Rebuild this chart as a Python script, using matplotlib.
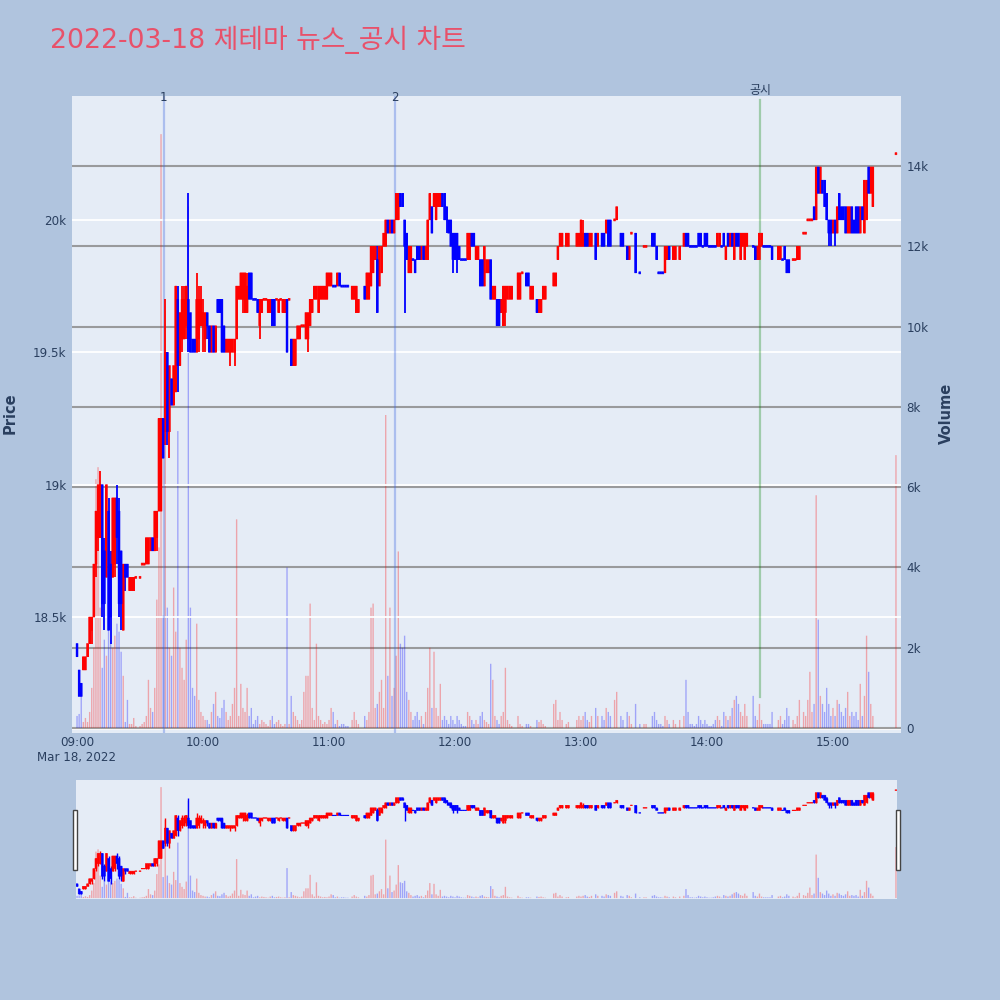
import numpy as np
import matplotlib.pyplot as plt
from matplotlib.patches import Rectangle

plt.rcParams['font.family'] = ['DejaVu Sans', 'Noto Sans CJK KR']

# --- Data: one candle per minute from 09:00 (index 0) to 15:30 (index 390) ---
opens = [
    18400, 18300, 18250, 18300, 18300, 18350, 18400, 18450, 18500, 18700,
    18800, 18800, 19000, 18750, 18650, 18900, 18700, 18650, 18700, 18950,
    18900, 18750, 18450, 18700, 18700, 18600, 18600, 18600, 18650, None,
    18650, 18700, 18700, 18700, 18700, 18750, 18800, 18750, 18800, 18900,
    18900, 19250, 19200, 19500, 19200, 19400, 19300, 19350, 19700, 19450,
    19550, 19550, 19600, 19700, 19650, 19550, 19550, 19500, 19550, 19600,
    19600, 19550, 19650, 19600, 19500, 19600, 19500, 19700, 19700, 19700,
    19600, 19500, 19500, 19500, 19500, 19500, 19550, 19700, 19700, 19700,
    19650, 19650, 19800, 19800, 19700, 19700, 19700, 19600, 19650, 19700,
    19700, 19650, 19650, 19700, 19700, 19700, 19650, 19700, 19650, 19650,
    19700, 19700, 19550, 19450, 19450, 19550, 19550, 19600, 19600, 19550,
    19550, 19600, 19650, 19700, 19700, 19650, 19700, 19700, 19700, 19700,
    19750, 19750, 19750, 19750, 19750, 19800, 19750, 19750, 19750, 19750,
    None, 19700, 19700, 19650, 19650, None, None, 19750, 19700, 19700,
    19750, 19800, 19850, 19850, 19750, 19800, 19900, 19900, 20000, 19950,
    20000, 19950, 20000, 20000, 20100, 20100, 20000, 19950, 19800, 19800,
    19850, 19850, 19900, 19900, 19850, 19900, 19850, 19850, 20000, 20050,
    20050, 20000, 20050, 20050, 20100, 20100, 20050, 20000, 20000, 19950,
    19950, 19950, 19900, 19850, 19850, 19850, 19850, 19850, 19950, 19950,
    19850, 19850, 19850, 19850, 19750, 19800, 19800, 19850, 19700, 19700,
    19700, 19700, 19650, 19600, 19650, 19700, 19700, 19700, None, None,
    19700, 19700, 19800, None, 19800, 19800, 19700, 19700, None, 19700,
    19650, 19650, 19700, 19700, None, None, None, 19750, 19750, 19850,
    19900, 19900, None, 19900, 19900, None, None, None, 19900, 19900,
    19900, 19900, 19950, 19950, 19900, 19900, None, 19950, 19900, None,
    19950, 19950, 19950, 20000, 20000, None, 20000, 20000, None, 19950,
    19950, None, 19900, 19850, 19950, None, 19950, None, 19800, None,
    19900, 19900, None, None, 19950, 19950, 19900, 19800, 19800, 19800,
    19800, 19850, 19900, None, 19850, 19850, None, 19850, None, 19900,
    19950, 19950, 19900, 19900, 19900, 19900, 19950, 19950, 19900, 19950,
    19950, 19900, 19900, 19900, 19900, 19900, 19900, 19900, 19950, 19850,
    19950, 19900, 19950, 19850, 19950, 19950, 19850, 19900, 19850, 19900,
    None, None, 19900, 19900, 19850, 19850, 19900, 19900, 19900, 19900,
    19900, 19900, None, None, 19850, 19850, 19850, 19900, 19850, 19850,
    None, 19850, 19850, 19850, 19850, None, 19950, 19950, 20000, 20000,
    20000, 20050, 20000, 20200, 20100, 20150, 20150, 20100, 20000, 20000,
    19950, 20000, 19950, 20100, 20050, 20050, 20050, 19950, 19950, 20050,
    20000, 20050, 20050, 19950, 20050, 19950, 20000, 20200, 20100, 20050,
    None, None, None, None, None, None, None, None, None, None,
    20250,
]

closes = [
    18350, 18200, 18200, 18350, 18350, 18400, 18500, 18500, 18700, 18900,
    19000, 19000, 18550, 18550, 19000, 18450, 18500, 18950, 18950, 18800,
    18550, 18550, 18700, 18650, 18650, 18650, 18650, 18650, 18650, None,
    18650, 18700, 18700, 18800, 18800, 18800, 18750, 18900, 18900, 19250,
    19250, 19100, 19500, 19200, 19450, 19300, 19450, 19750, 19450, 19650,
    19700, 19700, 19750, 19550, 19500, 19500, 19500, 19700, 19700, 19700,
    19650, 19650, 19600, 19500, 19600, 19500, 19600, 19650, 19650, 19500,
    19500, 19550, 19550, 19550, 19550, 19550, 19750, 19750, 19800, 19800,
    19800, 19750, 19700, 19700, 19700, 19700, 19650, 19700, 19700, 19700,
    19700, 19700, 19700, 19600, 19600, 19700, 19700, 19700, 19700, 19700,
    19500, 19700, 19450, 19550, 19550, 19600, 19600, 19600, 19600, 19650,
    19650, 19700, 19700, 19750, 19750, 19750, 19750, 19750, 19750, 19800,
    19800, 19800, 19750, 19750, 19800, 19750, 19750, 19750, 19750, 19750,
    None, 19750, 19750, 19750, 19700, None, None, 19700, 19800, 19800,
    19900, 19900, 19900, 19650, 19900, 19900, 19950, 20000, 19950, 20000,
    19950, 20000, 20100, 20100, 20050, 20050, 19900, 19850, 19900, 19900,
    19850, 19800, 19850, 19850, 19900, 19850, 19900, 20000, 20100, 19950,
    20100, 20100, 20100, 20100, 20050, 20000, 20000, 19950, 19900, 19850,
    19850, 19850, 19850, 19850, 19850, 19850, 19950, 19950, 19900, 19900,
    19900, 19900, 19750, 19750, 19900, 19850, 19850, 19700, 19750, 19750,
    19600, 19600, 19700, 19750, 19750, 19750, 19750, 19750, None, None,
    19800, 19800, 19800, None, 19750, 19750, 19750, 19750, None, 19650,
    19700, 19700, 19750, 19750, None, None, None, 19800, 19800, 19900,
    19950, 19950, None, 19950, 19950, None, None, None, 19950, 19950,
    20000, 19950, 19900, 19900, 19950, 19950, None, 19850, 19950, None,
    19900, 19900, 20000, 19900, 19900, None, 20000, 20050, None, 19900,
    19900, None, 19850, 19900, 19950, None, 19800, None, 19800, None,
    19900, 19900, None, None, 19900, 19900, 19850, 19800, 19800, 19800,
    19900, 19900, 19850, None, 19900, 19900, None, 19900, None, 19950,
    19900, 19900, 19900, 19900, 19900, 19900, 19900, 19900, 19900, 19900,
    19900, 19900, 19900, 19900, 19900, 19950, 19950, 19900, 19900, 19900,
    19900, 19950, 19900, 19950, 19900, 19900, 19950, 19950, 19950, 19950,
    None, None, 19900, 19850, 19900, 19950, 19950, 19900, 19900, 19900,
    19900, 19850, None, None, 19900, 19900, 19850, 19850, 19800, 19800,
    None, 19850, 19850, 19900, 19900, None, 19950, 19950, 20000, 20000,
    20000, 20000, 20200, 20100, 20200, 20100, 20050, 20000, 19950, 19950,
    20000, 19950, 20050, 20000, 20000, 20000, 19950, 20050, 20050, 19950,
    19950, 19950, 19950, 20050, 20000, 20150, 20150, 20100, 20200, 20200,
    None, None, None, None, None, None, None, None, None, None,
    20250,
]

highs = [
    18400, 18300, 18250, 18350, 18350, 18400, 18500, 18500, 18700, 18900,
    19000, 19050, 19000, 18800, 19000, 18950, 18750, 18950, 18950, 19000,
    18950, 18750, 18700, 18700, 18700, 18650, 18650, 18650, 18650, None,
    18650, 18700, 18700, 18800, 18800, 18800, 18800, 18900, 18900, 19250,
    19250, 19250, 19700, 19500, 19450, 19400, 19450, 19750, 19750, 19650,
    19750, 19750, 19750, 20100, 19650, 19550, 19550, 19800, 19750, 19750,
    19700, 19650, 19650, 19600, 19600, 19600, 19600, 19700, 19700, 19700,
    19600, 19550, 19550, 19550, 19550, 19550, 19750, 19750, 19800, 19800,
    19800, 19800, 19800, 19800, 19700, 19700, 19700, 19700, 19700, 19700,
    19700, 19700, 19700, 19700, 19700, 19700, 19700, 19700, 19700, 19700,
    19700, 19700, 19550, 19550, 19550, 19600, 19600, 19600, 19600, 19650,
    19650, 19700, 19700, 19750, 19750, 19750, 19750, 19750, 19750, 19800,
    19800, 19800, 19750, 19750, 19800, 19800, 19750, 19750, 19750, 19750,
    None, 19750, 19750, 19750, 19700, None, None, 19750, 19800, 19800,
    19900, 19900, 19900, 19900, 19900, 19900, 19950, 20000, 20000, 20000,
    20000, 20000, 20100, 20100, 20100, 20100, 20000, 19950, 19900, 19900,
    19850, 19850, 19900, 19900, 19900, 19900, 19900, 20000, 20100, 20050,
    20100, 20100, 20100, 20100, 20100, 20100, 20050, 20000, 20000, 19950,
    19950, 19950, 19900, 19850, 19850, 19850, 19950, 19950, 19950, 19950,
    19900, 19900, 19850, 19850, 19900, 19850, 19850, 19850, 19750, 19750,
    19700, 19700, 19700, 19750, 19750, 19750, 19750, 19750, None, None,
    19800, 19800, 19800, None, 19800, 19800, 19750, 19750, None, 19700,
    19700, 19700, 19750, 19750, None, None, None, 19800, 19800, 19900,
    19950, 19950, None, 19950, 19950, None, None, None, 19950, 19950,
    20000, 20000, 19950, 19950, 19950, 19950, None, 19950, 19950, None,
    19950, 19950, 20000, 20000, 20000, None, 20000, 20050, None, 19950,
    19950, None, 19900, 19900, 19950, None, 19950, None, 19800, None,
    19900, 19900, None, None, 19950, 19950, 19900, 19800, 19800, 19800,
    19900, 19900, 19900, None, 19900, 19900, None, 19900, None, 19950,
    19950, 19950, 19900, 19900, 19900, 19900, 19950, 19950, 19900, 19950,
    19950, 19900, 19900, 19900, 19900, 19950, 19950, 19900, 19950, 19900,
    19950, 19950, 19950, 19950, 19950, 19950, 19950, 19950, 19950, 19950,
    None, None, 19900, 19900, 19900, 19950, 19950, 19900, 19900, 19900,
    19900, 19900, None, None, 19900, 19900, 19850, 19900, 19850, 19850,
    None, 19850, 19850, 19900, 19900, None, 19950, 19950, 20000, 20000,
    20000, 20050, 20200, 20200, 20200, 20150, 20150, 20100, 20000, 20000,
    20000, 20000, 20050, 20100, 20050, 20050, 20050, 20050, 20050, 20050,
    20000, 20050, 20050, 20050, 20050, 20150, 20150, 20200, 20200, 20200,
    None, None, None, None, None, None, None, None, None, None,
    20250,
]

lows = [
    18350, 18200, 18200, 18300, 18300, 18350, 18400, 18400, 18500, 18650,
    18750, 18800, 18500, 18450, 18650, 18450, 18400, 18650, 18650, 18700,
    18500, 18450, 18450, 18600, 18650, 18600, 18600, 18600, 18650, None,
    18650, 18700, 18700, 18700, 18700, 18750, 18750, 18750, 18750, 18900,
    18900, 19100, 19150, 19150, 19100, 19300, 19300, 19350, 19350, 19450,
    19500, 19550, 19550, 19500, 19500, 19500, 19500, 19500, 19500, 19600,
    19500, 19500, 19550, 19500, 19500, 19500, 19500, 19650, 19650, 19500,
    19500, 19500, 19500, 19450, 19500, 19450, 19550, 19700, 19700, 19650,
    19650, 19650, 19700, 19700, 19700, 19700, 19650, 19550, 19650, 19700,
    19700, 19650, 19650, 19600, 19600, 19700, 19650, 19700, 19650, 19650,
    19500, 19700, 19450, 19450, 19450, 19550, 19550, 19600, 19600, 19550,
    19500, 19600, 19650, 19700, 19700, 19650, 19700, 19700, 19700, 19700,
    19750, 19750, 19750, 19750, 19750, 19750, 19750, 19750, 19750, 19750,
    None, 19700, 19700, 19650, 19650, None, None, 19700, 19700, 19700,
    19750, 19800, 19850, 19650, 19750, 19800, 19900, 19900, 19950, 19950,
    19950, 19950, 20000, 20000, 20050, 20050, 19650, 19850, 19800, 19800,
    19850, 19800, 19850, 19850, 19850, 19850, 19850, 19850, 20000, 19950,
    20050, 20000, 20050, 20050, 20050, 20000, 19950, 19950, 19900, 19800,
    19850, 19800, 19850, 19850, 19850, 19850, 19850, 19850, 19900, 19900,
    19850, 19850, 19750, 19750, 19750, 19800, 19800, 19700, 19700, 19700,
    19600, 19600, 19650, 19600, 19600, 19700, 19700, 19700, None, None,
    19700, 19700, 19800, None, 19750, 19750, 19700, 19700, None, 19650,
    19650, 19650, 19700, 19700, None, None, None, 19750, 19750, 19850,
    19900, 19900, None, 19900, 19900, None, None, None, 19900, 19900,
    19900, 19900, 19900, 19900, 19900, 19900, None, 19850, 19900, None,
    19900, 19900, 19950, 19900, 19900, None, 20000, 20000, None, 19900,
    19900, None, 19850, 19850, 19950, None, 19800, None, 19800, None,
    19900, 19900, None, None, 19900, 19900, 19850, 19800, 19800, 19800,
    19800, 19850, 19850, None, 19850, 19850, None, 19850, None, 19900,
    19900, 19900, 19900, 19900, 19900, 19900, 19900, 19900, 19900, 19900,
    19900, 19900, 19900, 19900, 19900, 19900, 19900, 19900, 19900, 19850,
    19900, 19900, 19900, 19850, 19900, 19900, 19850, 19900, 19850, 19900,
    None, None, 19900, 19850, 19850, 19850, 19900, 19900, 19900, 19900,
    19900, 19850, None, None, 19850, 19850, 19850, 19850, 19800, 19800,
    None, 19850, 19850, 19850, 19850, None, 19950, 19950, 20000, 20000,
    20000, 20000, 20000, 20100, 20100, 20100, 20050, 20000, 19900, 19900,
    19950, 19900, 19950, 20000, 20000, 20000, 19950, 19950, 19950, 19950,
    19950, 19950, 19950, 19950, 20000, 19950, 20000, 20100, 20100, 20050,
    None, None, None, None, None, None, None, None, None, None,
    20250,
]

volumes = [
    300, 350, 900, 150, 250, 150, 400, 1000, 2000, 6200,
    6500, 3000, 1500, 2200, 1800, 2500, 2200, 2000, 2300, 2600,
    2400, 1900, 1300, 150, 700, 100, 100, 250, 50, 0,
    50, 100, 150, 300, 1200, 500, 400, 1000, 3200, 4500,
    14800, 2800, 10400, 3000, 2000, 1800, 3500, 2400, 7400, 2000,
    1500, 1200, 2200, 13000, 3000, 1000, 800, 2600, 700, 400,
    300, 200, 200, 100, 400, 600, 900, 300, 250, 500,
    700, 400, 200, 300, 600, 1000, 5200, 300, 1100, 500,
    400, 1000, 300, 500, 100, 200, 300, 100, 200, 150,
    100, 50, 200, 300, 100, 150, 200, 100, 50, 100,
    4000, 100, 800, 400, 300, 200, 100, 200, 900, 1300,
    1300, 3100, 500, 200, 2100, 300, 200, 100, 150, 100,
    200, 500, 400, 100, 200, 50, 100, 100, 50, 50,
    0, 200, 400, 200, 100, 0, 0, 300, 200, 400,
    3000, 3100, 500, 600, 900, 1200, 500, 7800, 1300, 3000,
    800, 1000, 1800, 4400, 2100, 2000, 2300, 900, 700, 400,
    200, 300, 400, 200, 300, 100, 400, 1000, 2000, 500,
    1900, 500, 300, 1100, 200, 300, 200, 100, 300, 200,
    100, 300, 200, 100, 50, 50, 400, 300, 200, 100,
    200, 100, 300, 400, 200, 150, 100, 1600, 1200, 300,
    200, 100, 300, 400, 1500, 200, 100, 50, 0, 0,
    300, 100, 50, 0, 100, 100, 50, 0, 0, 200,
    150, 200, 100, 50, 0, 0, 0, 600, 700, 200,
    400, 200, 0, 100, 150, 0, 0, 0, 200, 300,
    200, 300, 400, 200, 150, 300, 0, 500, 300, 0,
    300, 200, 500, 400, 300, 0, 700, 900, 0, 300,
    200, 0, 400, 300, 100, 0, 600, 0, 100, 0,
    100, 100, 0, 0, 300, 400, 200, 100, 100, 50,
    300, 200, 100, 0, 200, 100, 0, 200, 0, 300,
    1200, 400, 100, 100, 50, 100, 300, 200, 100, 200,
    100, 50, 50, 100, 200, 300, 200, 50, 400, 300,
    200, 300, 500, 700, 800, 600, 400, 300, 600, 300,
    0, 0, 800, 300, 200, 600, 200, 100, 100, 100,
    100, 400, 0, 0, 200, 300, 100, 200, 500, 300,
    0, 200, 100, 300, 700, 0, 400, 300, 700, 1400,
    400, 600, 5800, 2700, 800, 600, 400, 1000, 600, 300,
    500, 300, 700, 600, 400, 300, 500, 900, 300, 400,
    300, 400, 200, 1100, 300, 800, 2300, 1400, 600, 300,
    0, 0, 0, 0, 0, 0, 0, 0, 0, 0,
    6800,
]

hour_ticks = [0, 60, 120, 180, 240, 300, 360]
hour_labels = ['09:00\nMar 18, 2022', '10:00', '11:00', '12:00', '13:00', '14:00', '15:00']
price_ticks = [18500, 19000, 19500, 20000]
price_labels = ['18.5k', '19k', '19.5k', '20k']
volume_ticks = [0, 2000, 4000, 6000, 8000, 10000, 12000, 14000]
volume_labels = ['0', '2k', '4k', '6k', '8k', '10k', '12k', '14k']

event_labels = ['1', '2', '공시']
event_minutes = [41.4, 151.4, 325.2]

# --- Colours ---
RED = '#FF0000'
BLUE = '#0000FF'
PAPER = '#B0C4DE'
PLOT_BG = '#E5ECF6'
TEXT = '#2a3f5f'

o = np.array(opens, dtype=float)
c = np.array(closes, dtype=float)
h = np.array(highs, dtype=float)
l = np.array(lows, dtype=float)
v = np.array(volumes, dtype=float)
t = np.arange(len(o))

# candle direction, flat candles follow the previous close like plotly does
up = np.ones(len(o), dtype=bool)
prev_c, prev_up = np.nan, True
for i in range(len(o)):
    if np.isnan(c[i]):
        up[i] = prev_up
        continue
    if c[i] > o[i]:
        d = True
    elif c[i] < o[i]:
        d = False
    elif not np.isnan(prev_c) and c[i] != prev_c:
        d = c[i] > prev_c
    else:
        d = prev_up
    up[i], prev_up, prev_c = d, d, c[i]

ok = ~np.isnan(c)


def draw_candles(ax, width, wick_lw, edge_lw, min_h):
    for mask, col in ((ok & up, RED), (ok & ~up, BLUE)):
        ax.vlines(t[mask], l[mask], h[mask], color=col, lw=wick_lw, zorder=3)
        lo = np.minimum(o, c)[mask]
        hh = np.abs(c - o)[mask]
        flat = hh < min_h
        lo = np.where(flat, lo - min_h / 2, lo)
        hh = np.where(flat, min_h, hh)
        ax.bar(t[mask], hh, width, bottom=lo, color=col, edgecolor=col,
               lw=edge_lw, zorder=4, snap=False)


def draw_volume(ax, width, alpha):
    cols = np.where(up, RED, BLUE)
    ax.bar(t, v, width, color=cols, alpha=alpha, lw=0, zorder=2, snap=False)


PRICE_LIM = (18062, 20468)
VOL_LIM = (-125, 15750)

fig = plt.figure(figsize=(10, 10), dpi=100, facecolor=PAPER)

# --- Main chart ---
ax_v = fig.add_axes([0.072, 0.267, 0.829, 0.637])
ax_p = ax_v.twinx()
ax_p.yaxis.tick_left()
ax_p.yaxis.set_label_position('left')
ax_v.yaxis.tick_right()
ax_v.yaxis.set_label_position('right')
ax_p.set_zorder(ax_v.get_zorder() + 1)
ax_p.patch.set_visible(False)
ax_v.set_facecolor(PLOT_BG)

draw_volume(ax_v, 0.65, 0.3)
ax_v.set_ylim(*VOL_LIM)
ax_v.set_yticks(volume_ticks)
ax_v.set_yticklabels(volume_labels)
ax_v.grid(axis='y', color='#8c8c8c', lw=1.5, alpha=0.85)
ax_v.grid(axis='x', visible=False)
ax_v.axhline(0, color='white', lw=2, zorder=1.5)

draw_candles(ax_p, 0.9, 1.3, 0.4, 8)
ax_p.set_ylim(*PRICE_LIM)
ax_p.set_yticks(price_ticks)
ax_p.set_yticklabels(price_labels)
ax_p.grid(axis='y', color='white', lw=1.3)
ax_p.set_axisbelow(True)

for ax in (ax_v, ax_p):
    ax.set_xlim(-2.4, 392.4)
    for s in ax.spines.values():
        s.set_visible(False)
    ax.tick_params(length=0, labelsize=8.6, labelcolor=TEXT, pad=4)

ax_v.set_xticks(hour_ticks)
ax_v.set_xticklabels(hour_labels)
ax_v.tick_params(axis='x', pad=2)
ax_p.tick_params(axis='x', labelbottom=False)

# event markers
for lab, m in zip(event_labels, event_minutes):
    if lab == '공시':
        ax_p.axvline(m, ymin=0.057, ymax=0.994, color='green', alpha=0.3, lw=1.6, zorder=2)
        ax_p.text(m, 1.009, lab, transform=ax_p.get_xaxis_transform(), ha='center',
                  va='center', fontsize=8.6, color=TEXT)
    else:
        ax_p.axvline(m, color='royalblue', alpha=0.35, lw=1.6, zorder=2)
        ax_p.text(m, 0.998, lab, transform=ax_p.get_xaxis_transform(), ha='center',
                  va='center', fontsize=8.6, color=TEXT)

fig.text(0.010, 0.587, 'Price', rotation=90, ha='center', va='center',
         fontsize=10.5, fontweight='bold', color=TEXT)
fig.text(0.946, 0.587, 'Volume', rotation=90, ha='center', va='center',
         fontsize=10.5, fontweight='bold', color=TEXT)

fig.text(0.05, 0.96, '2022-03-18 제테마 뉴스_공시 차트', ha='left', va='center',
         fontsize=19.3, color='#E8516A')

# --- Range slider ---
sl_v = fig.add_axes([0.076, 0.101, 0.821, 0.119])
sl_p = sl_v.twinx()
sl_p.set_zorder(sl_v.get_zorder() + 1)
sl_p.patch.set_visible(False)
sl_v.set_facecolor(PLOT_BG)
draw_volume(sl_v, 0.65, 0.3)
draw_candles(sl_p, 0.9, 1.0, 0.4, 12)
sl_v.set_ylim(*VOL_LIM)
sl_p.set_ylim(18100, 20450)
for ax in (sl_v, sl_p):
    ax.set_xlim(-0.5, 390.5)
    ax.set_xticks([])
    ax.set_yticks([])
    for s in ax.spines.values():
        s.set_visible(False)

for x0 in (0.073, 0.896):
    fig.add_artist(Rectangle((x0, 0.130), 0.004, 0.060, transform=fig.transFigure,
                             facecolor='white', edgecolor='#444444', lw=1))

fig.savefig('out.png', dpi=100, facecolor=PAPER)
